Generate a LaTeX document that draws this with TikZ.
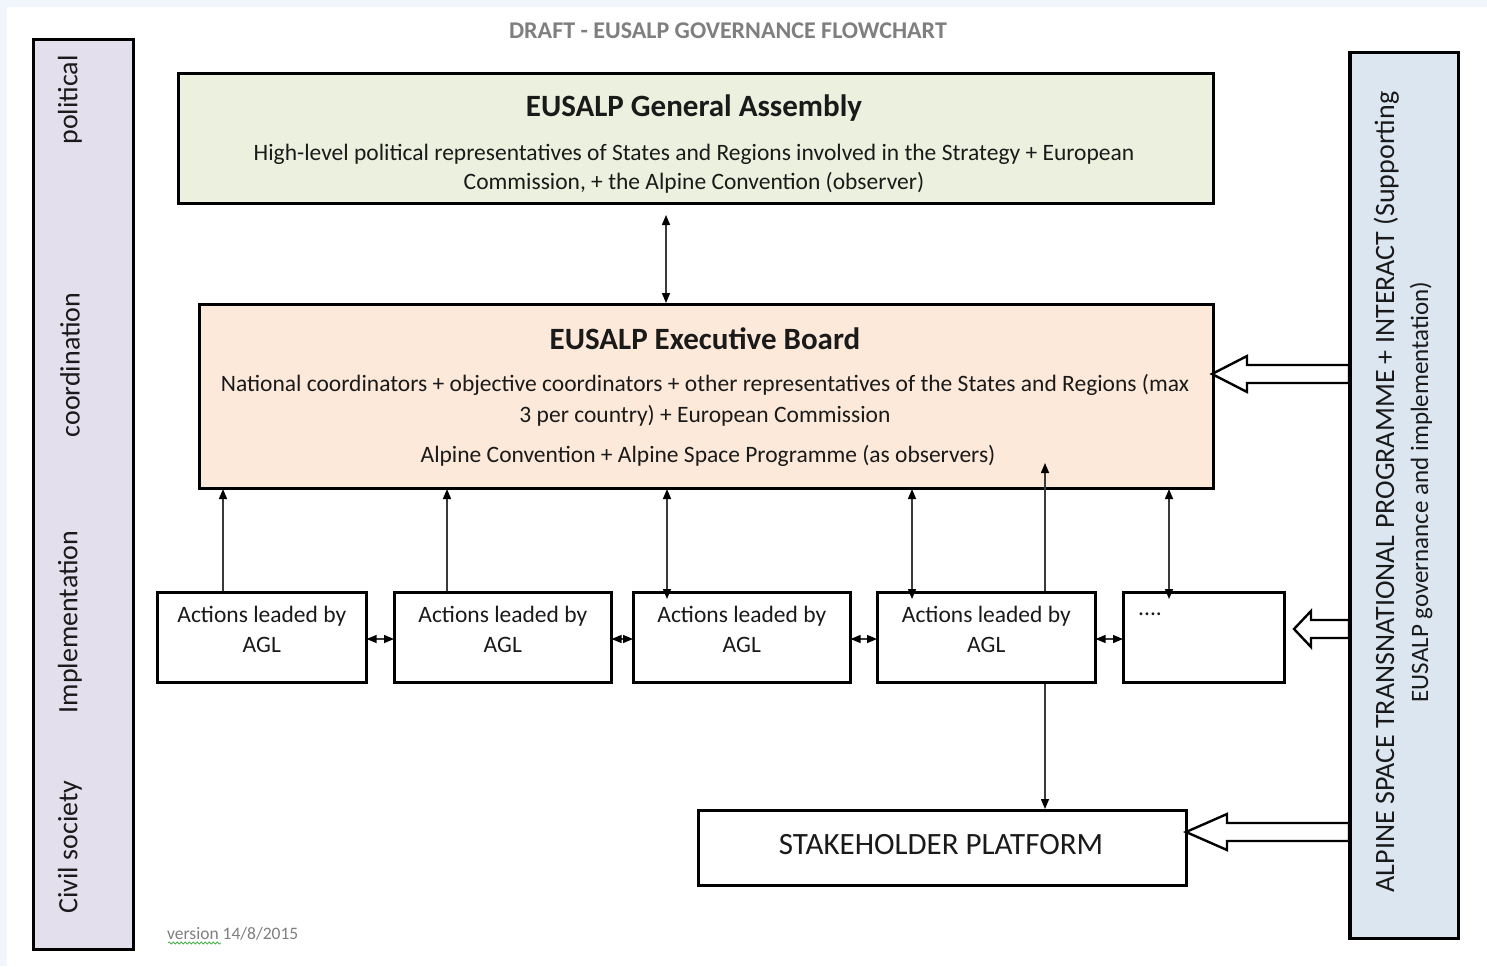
\documentclass[tikz,border=0pt]{standalone}
\usepackage{fontspec}
\setmainfont{Carlito}
\usetikzlibrary{arrows.meta,decorations.pathmorphing,calc}
\definecolor{lav}{HTML}{E4DFEC}
\definecolor{gagreen}{HTML}{EBF1DE}
\definecolor{ebpeach}{HTML}{FDE9D9}
\definecolor{rpblue}{HTML}{DCE6F1}
\definecolor{bgblue}{HTML}{F1F6FC}
\definecolor{titlegray}{HTML}{7F7F7F}
\definecolor{linegray}{HTML}{3A3A3A}
\definecolor{txt}{HTML}{1A1A1A}
\definecolor{squig}{HTML}{4CAF50}
\begin{document}
\begin{tikzpicture}[x=1pt,y=-1pt,
  box/.style={draw=black,line width=2.6pt,inner sep=0pt,anchor=north west},
  body/.style={text=txt,font=\fontsize{23.5}{30}\selectfont,align=center,inner sep=0pt},
  boxtitle/.style={text=txt,font=\bfseries\fontsize{31}{34}\selectfont,inner sep=0pt},
  side/.style={rotate=90,text=txt,font=\fontsize{28}{32}\selectfont,inner sep=0pt},
  conn/.style={draw=linegray,line width=1.4pt},
  both/.style={conn,{Triangle[length=10pt,width=8pt,color=black]}-{Triangle[length=10pt,width=8pt,color=black]}},
  up/.style={conn,-{Triangle[length=10pt,width=8pt,color=black]}},
  blk/.style={draw=black,line width=2.4pt,fill=white,line join=miter}]
\useasboundingbox (0,0) rectangle (1487,966);
\fill[white] (0,0) rectangle (1487,966);
\fill[bgblue] (0,0) rectangle (1487,7);
\fill[bgblue] (0,0) rectangle (7,966);

% title
\node[text=titlegray,font=\bfseries\fontsize{24}{28}\selectfont,inner sep=0pt] (title) at (728,31) {DRAFT - EUSALP GOVERNANCE FLOWCHART};

% left panel
\node[box,fill=lav,minimum width=100pt,minimum height=910pt] (lp) at (32,38) {};
\node[side] (lpol) at (70,100) {political};
\node[side] (lcoo) at (70,365) {coordination};
\node[side] (limp) at (70,622) {Implementation};
\node[side] (lciv) at (70,847) {Civil society};

% right panel
\node[box,fill=rpblue,minimum width=108pt,minimum height=886pt] (rp) at (1349,51) {};
\node[side,align=center,font=\fontsize{25}{34}\selectfont] (rptext) at (1403,492) {{\fontsize{28}{34}\selectfont ALPINE SPACE TRANSNATIONAL PROGRAMME + INTERACT (Supporting}\\EUSALP governance and implementation)};

% general assembly
\node[box,fill=gagreen,minimum width=1035pt,minimum height=130pt] (ga) at (177,72) {};
\node[boxtitle] (gatitle) at (694,108) {EUSALP General Assembly};
\node[body,font=\fontsize{23.5}{29}\selectfont] (gatext) at (694,168.5) {High-level political representatives of States and Regions involved in the Strategy + European\\Commission, + the Alpine Convention (observer)};

% executive board
\node[box,fill=ebpeach,minimum width=1014pt,minimum height=184pt] (eb) at (198,303) {};
\node[boxtitle] (ebtitle) at (705,339) {EUSALP Executive Board};
\node[body,font=\fontsize{23.5}{31}\selectfont] (ebtext) at (705,400.5) {National coordinators + objective coordinators + other representatives of the States and Regions (max\\3 per country) + European Commission};
\node[body] (ebobs) at (708,456) {Alpine Convention + Alpine Space Programme (as observers)};

% action boxes
\node[box,minimum width=209pt,minimum height=90pt] (a1) at (156,591) {};
\node[box,minimum width=217pt,minimum height=90pt] (a2) at (393,591) {};
\node[box,minimum width=217pt,minimum height=90pt] (a3) at (632,591) {};
\node[box,minimum width=218pt,minimum height=90pt] (a4) at (876,591) {};
\node[box,minimum width=161pt,minimum height=90pt] (a5) at (1122,591) {};
\foreach \b in {a1,a2,a3,a4}{
  \node[body] (\b t) at ($(\b.center)+(0,-8)$) {Actions leaded by\\AGL};
}
\node[body,anchor=west] (a5t) at (1138,614) {....};

% stakeholder platform
\node[box,minimum width=488pt,minimum height=75pt] (sp) at (697,809) {};
\node[text=txt,font=\fontsize{31}{34}\selectfont,inner sep=0pt] (spt) at (941,845) {STAKEHOLDER PLATFORM};

% version
\node[text=titlegray,font=\fontsize{17.5}{20}\selectfont,inner sep=0pt,anchor=west] (ver) at (167,934) {version 14/8/2015};
\draw[squig,line width=0.8pt,decorate,decoration={snake,amplitude=1pt,segment length=4pt}] (168,943) -- (221,943);

% connectors
\coordinate (gaA) at (666,215);
\draw[both] (gaA) -- (eb.north -| gaA);

\coordinate (c1) at (223,0);
\coordinate (c2) at (447,0);
\coordinate (c3) at (667,0);
\coordinate (c4) at (912,0);
\coordinate (c5) at (1169,0);
\coordinate (ebin) at (1045,463);
\coordinate (ebb) at (0,489);
\coordinate (abt) at (0,599);

\draw[up] (a1.north -| c1) -- (ebb -| c1);
\draw[up] (a2.north -| c2) -- (ebb -| c2);
\draw[both] (abt -| c3) -- (ebb -| c3);
\draw[both] (abt -| c4) -- (ebb -| c4);
\draw[both] (abt -| c5) -- (ebb -| c5);
\draw[up] (a4.north -| ebin) -- (ebin);
\draw[up] (a4.south -| ebin) -- (sp.north -| ebin);

\coordinate (hy) at (0,639);
\draw[both,shorten <=-1pt,shorten >=-1pt] (a1.east |- hy) -- (a2.west |- hy);
\draw[both,shorten <=-1pt,shorten >=-1pt] (a2.east |- hy) -- (a3.west |- hy);
\draw[both,shorten <=-1pt,shorten >=-1pt] (a3.east |- hy) -- (a4.west |- hy);
\draw[both,shorten <=-1pt,shorten >=-1pt] (a4.east |- hy) -- (a5.west |- hy);

% block arrows from the right panel
\coordinate (tip1) at (1212,374);
\coordinate (tip2) at (1294,629);
\coordinate (tip3) at (1186,832);
\draw[blk] (tip1) -- ++(35,-18) -- ++(0,9) -- (rp.west |- {$(tip1)+(0,-9)$}) -- (rp.west |- {$(tip1)+(0,9)$}) -- ($(tip1)+(35,9)$) -- ++(0,9) -- cycle;
\draw[blk] (tip2) -- ++(17,-18) -- ++(0,9) -- (rp.west |- {$(tip2)+(0,-9)$}) -- (rp.west |- {$(tip2)+(0,9)$}) -- ($(tip2)+(17,9)$) -- ++(0,9) -- cycle;
\draw[blk] (tip3) -- ++(41,-18) -- ++(0,9) -- (rp.west |- {$(tip3)+(0,-9)$}) -- (rp.west |- {$(tip3)+(0,9)$}) -- ($(tip3)+(41,9)$) -- ++(0,9) -- cycle;
% redraw right panel border over arrow ends
\draw[black,line width=2.6pt] (rp.north west) -- (rp.south west);
\end{tikzpicture}
\end{document}
